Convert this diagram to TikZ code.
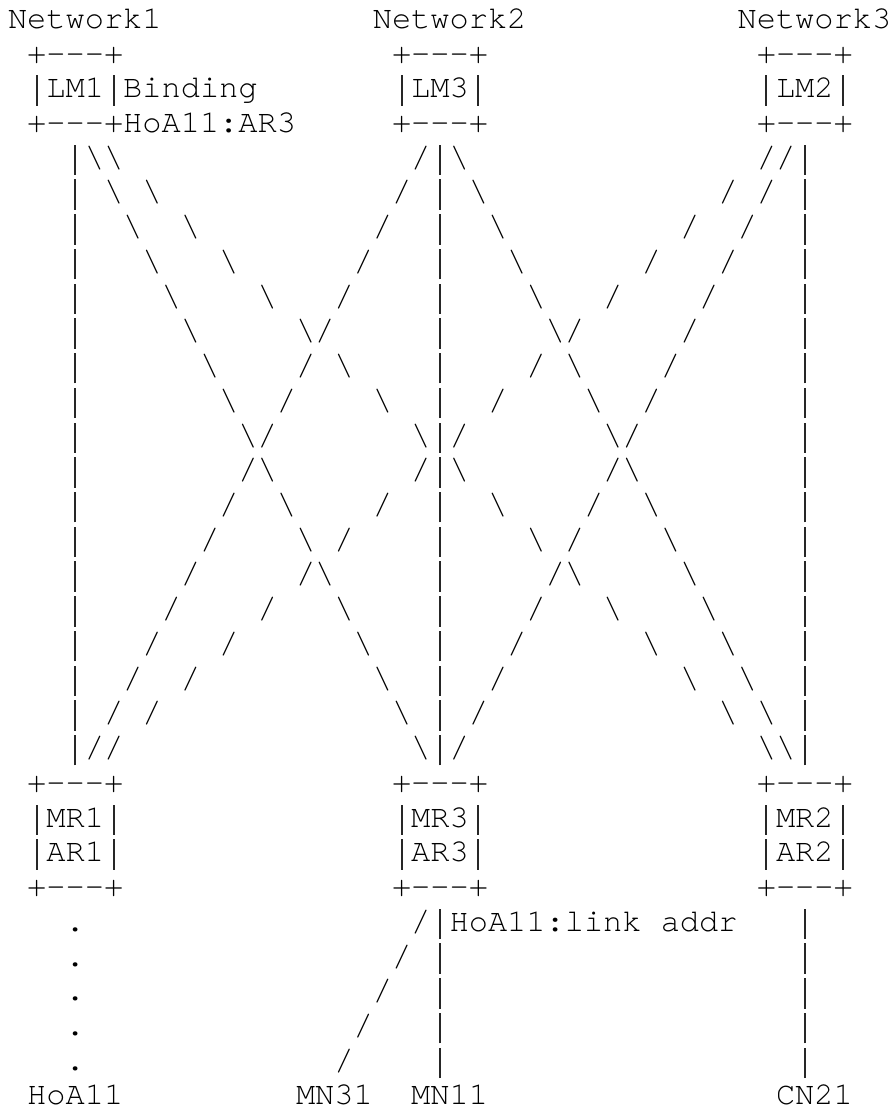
\documentclass[tikz,border=0pt]{standalone}
\usepackage{fontspec}
\setmonofont{TeX Gyre Cursor}
\usepackage{tikz}

\newcommand{\asciifont}{\fontsize{32pt}{34.73pt}\selectfont\ttfamily}
\newcommand{\vb}{\makebox[0.6em]{\color{black!85}\rule[-0.245em]{0.062em}{0.95em}}}
\newcommand{\bk}{\textbackslash}
\newcommand{\fw}{/}

\begin{document}
\begin{tikzpicture}[x=19.2pt, y=-34.73pt,
    ascii/.style={anchor=base west, inner sep=0pt, outer sep=0pt, font=\asciifont}]
    \useasboundingbox (-0.4167,-0.8149) rectangle (46.0938,31.1748);

    % Networks and local mobility anchors
    \node[ascii] (Net1) at (0,0) {Network1};
    \node[ascii] (Net2) at (19,0) {Network2};
    \node[ascii] (Net3) at (38,0) {Network3};
    \node[ascii] (LM1top) at (1,1) {+---+};
    \node[ascii] (LM3top) at (20,1) {+---+};
    \node[ascii] (LM2top) at (39,1) {+---+};
    \node[ascii] (LM1) at (1,2) {\vb LM1\vb Binding};
    \node[ascii] (LM3) at (20,2) {\vb LM3\vb};
    \node[ascii] (LM2) at (39,2) {\vb LM2\vb};
    \node[ascii] (LM1bot) at (1,3) {+---+HoA11:AR3};
    \node[ascii] (LM3bot) at (20,3) {+---+};
    \node[ascii] (LM2bot) at (39,3) {+---+};

    % Links between anchors and routers
    \foreach \k in {1,...,18} {
        \node[ascii] (barL\k) at (3,{3+\k}) {\vb};
        \node[ascii] (barM\k) at (22,{3+\k}) {\vb};
        \node[ascii] (barR\k) at (41,{3+\k}) {\vb};
        \node[ascii] (A\k) at ({3+\k},{3+\k}) {\bk};
        \node[ascii] (B\k) at ({3+2*\k},{3+\k}) {\bk};
        \node[ascii] (C\k) at ({22-\k},{3+\k}) {\fw};
        \node[ascii] (D\k) at ({22+\k},{3+\k}) {\bk};
        \node[ascii] (E\k) at ({41-\k},{3+\k}) {\fw};
        \node[ascii] (F\k) at ({41-2*\k},{3+\k}) {\fw};
    }

    % Mobility and access routers
    \node[ascii] (MR1top) at (1,22) {+---+};
    \node[ascii] (MR3top) at (20,22) {+---+};
    \node[ascii] (MR2top) at (39,22) {+---+};
    \node[ascii] (MR1) at (1,23) {\vb MR1\vb};
    \node[ascii] (MR3) at (20,23) {\vb MR3\vb};
    \node[ascii] (MR2) at (39,23) {\vb MR2\vb};
    \node[ascii] (AR1) at (1,24) {\vb AR1\vb};
    \node[ascii] (AR3) at (20,24) {\vb AR3\vb};
    \node[ascii] (AR2) at (39,24) {\vb AR2\vb};
    \node[ascii] (MR1bot) at (1,25) {+---+};
    \node[ascii] (MR3bot) at (20,25) {+---+};
    \node[ascii] (MR2bot) at (39,25) {+---+};

    % Access links
    \foreach \k in {0,...,4} {
        \node[ascii] (dot\k) at (3,{26+\k}) {.};
        \node[ascii] (toMN31\k) at ({21-\k},{26+\k}) {\fw};
        \node[ascii] (toMN11\k) at (22,{26+\k}) {\vb};
        \node[ascii] (toCN21\k) at (41,{26+\k}) {\vb};
    }
    \node[ascii] (link) at (23,26) {HoA11:link addr};

    % Hosts
    \node[ascii] (HoA) at (1,31) {HoA11};
    \node[ascii] (MN31) at (15,31) {MN31};
    \node[ascii] (MN11) at (21,31) {MN11};
    \node[ascii] (CN21) at (40,31) {CN21};
\end{tikzpicture}
\end{document}
